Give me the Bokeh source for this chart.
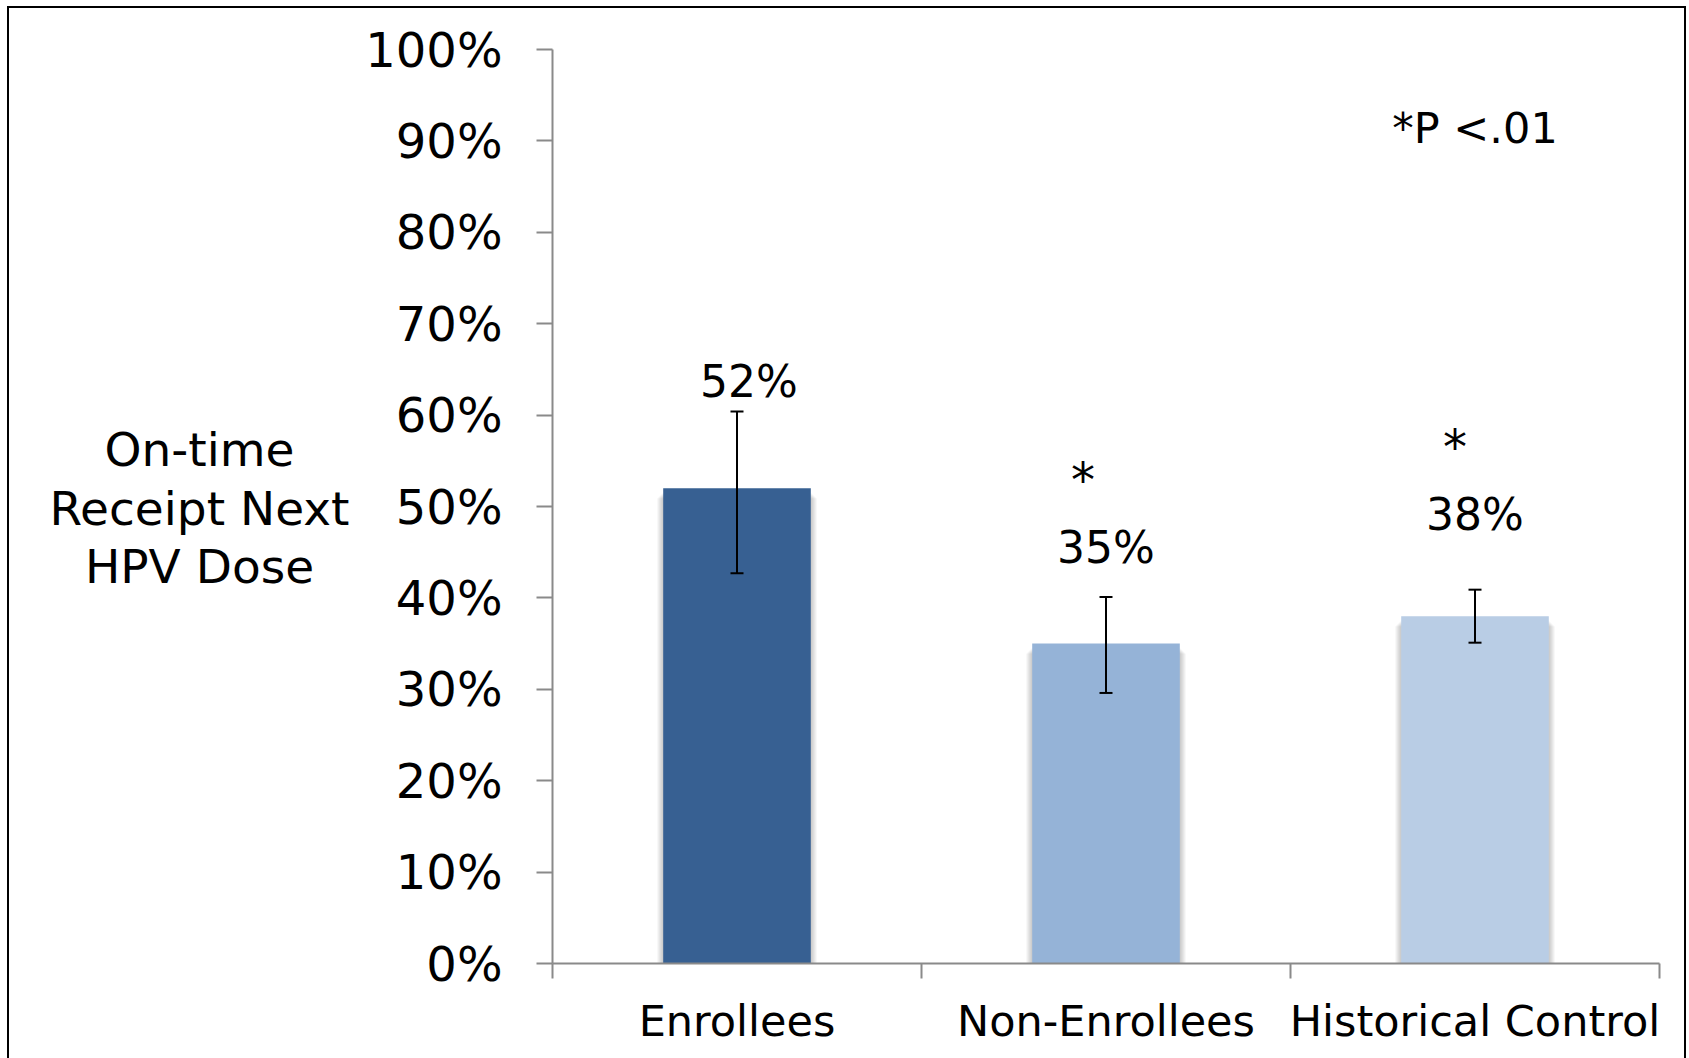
from bokeh.plotting import figure
from bokeh.layouts import row
from bokeh.models import (Range1d, FixedTicker, PrintfTickFormatter, ColumnDataSource,
                          Whisker, TeeHead, Label, InlineStyleSheet)
from bokeh.core.properties import value
from bokeh.embed import file_html
from bokeh.resources import INLINE

# ---- data -------------------------------------------------------------
categories = ["Enrollees", "Non-Enrollees", "Historical Control"]
rates = [52, 35, 38]                 # on-time receipt, %
ci_low = [42.7, 29.6, 35.1]
ci_high = [60.4, 40.1, 40.9]
significant = [False, True, True]    # *P < .01
y_ticks = [0, 10, 20, 30, 40, 50, 60, 70, 80, 90, 100]
y_title = ["On-time", "Receipt Next", "HPV Dose"]
p_note = "*P <.01"

# ---- styling / placement ---------------------------------------------
bar_colors = ["#376092", "#95B3D7", "#B9CDE5"]
axis_gray = "#8a8a8a"
FONT = "DejaVu Sans"
value_label_y = [63.7, 45.5, 49.1]
value_label_dx = [12, 0, 0]
star_y = [None, 52.9, 56.55]
star_dx = [0, -23, -20]
title_line_y = [56.2, 49.8, 43.4]    # on the shared percent scale

W, H = 1689, 1058
TITLE_W = 352

y_range = Range1d(0, 100)

# ---- y-axis title strip (horizontal, centred lines) -------------------
t = figure(width=TITLE_W, height=H, x_range=Range1d(0, TITLE_W), y_range=y_range,
           x_axis_type=None, y_axis_type=None,
           output_backend="svg", toolbar_location=None,
           min_border_left=0, min_border_right=0, min_border_top=49, min_border_bottom=95)
t.grid.grid_line_color = None
t.outline_line_color = None
t.background_fill_color = "white"
t.border_fill_color = "white"
t.text(x=[199 for _ in y_title], y=title_line_y, text=y_title,
       text_font=value(FONT), text_font_size="47px", text_align="center",
       text_baseline="alphabetic", text_color="black")

# ---- main bar chart ---------------------------------------------------
p = figure(width=W - TITLE_W, height=H, x_range=Range1d(0, 3), y_range=y_range,
           output_backend="svg", toolbar_location=None,
           min_border_left=552 - TITLE_W, min_border_right=30, min_border_top=49, min_border_bottom=95)
p.outline_line_color = None
p.xgrid.grid_line_color = None
p.ygrid.grid_line_color = None
p.background_fill_color = "white"
p.border_fill_color = "white"

centers = [i + 0.5 for i in range(len(categories))]
src = ColumnDataSource(dict(x=centers, top=rates, lo=ci_low, hi=ci_high, color=bar_colors,
                            label=[f"{r}%" for r in rates], ly=value_label_y, ldx=value_label_dx))

# soft drop shadow around each bar
px_x = 3 / (W - 552 - 30)
px_y = 100 / (H - 49 - 95)
for k in range(1, 7):
    p.quad(left=[c - 0.2 - k * px_x for c in centers],
           right=[c + 0.2 + k * px_x for c in centers],
           top=[r - (4 + k) * px_y for r in rates],
           bottom=[0] * len(rates),
           fill_color="black", fill_alpha=0.035, line_color=None)

p.vbar(x="x", top="top", width=0.4, bottom=0, source=src, fill_color="color", line_color=None)

err = Whisker(base="x", lower="lo", upper="hi", source=src, line_color="black", line_width=2,
              level="overlay",
              upper_head=TeeHead(size=13, line_width=2, line_color="black"),
              lower_head=TeeHead(size=13, line_width=2, line_color="black"))
p.add_layout(err)

p.text(x="x", y="ly", text="label", source=src, x_offset="ldx",
       text_font=value(FONT), text_font_size="44px", text_align="center",
       text_baseline="alphabetic", text_color="black")

sx = [c for c, s in zip(centers, significant) if s]
sy = [y for y, s in zip(star_y, significant) if s]
sdx = [d for d, s in zip(star_dx, significant) if s]
p.text(x=sx, y=sy, text=["*"] * len(sx), x_offset=sdx,
       text_font=value(FONT), text_font_size="48px", text_align="center",
       text_baseline="alphabetic", text_color="black")

p.add_layout(Label(x=centers[-1], y=91.4, text=p_note, text_font=FONT, text_font_size="43px",
                   text_align="center", text_baseline="alphabetic", text_color="black"))

# y axis
ya = p.yaxis[0]
ya.ticker = FixedTicker(ticks=y_ticks)
ya.formatter = PrintfTickFormatter(format="%d%%")
ya.axis_line_color = axis_gray
ya.axis_line_width = 2
ya.major_tick_line_color = axis_gray
ya.major_tick_line_width = 2
ya.major_tick_out = 16
ya.major_tick_in = 0
ya.minor_tick_line_color = None
ya.major_label_standoff = 34
ya.major_label_text_font = FONT
ya.major_label_text_font_size = "48px"
ya.major_label_text_color = "black"

# x axis: labels at category centres, ticks at category boundaries
xa = p.xaxis[0]
xa.ticker = FixedTicker(ticks=centers, minor_ticks=list(range(len(categories) + 1)))
xa.major_label_overrides = {c: name for c, name in zip(centers, categories)}
xa.axis_line_color = axis_gray
xa.axis_line_width = 2
xa.major_tick_line_color = None
xa.major_tick_out = 0
xa.major_tick_in = 0
xa.minor_tick_line_color = axis_gray
xa.minor_tick_line_width = 2
xa.minor_tick_out = 15
xa.minor_tick_in = 0
xa.major_label_standoff = 17
xa.major_label_text_font = FONT
xa.major_label_text_font_size = "43px"
xa.major_label_text_color = "black"

layout = row(t, p, spacing=0)

# thin black frame around the whole chart area
layout.stylesheets = [InlineStyleSheet(css=""":host { position: relative; }
:host::after {
  content: ""; position: absolute; left: 7px; top: 6px; width: 1679px; height: 1120px;
  border-left: 2px solid #000; border-top: 2px solid #000; border-right: 2px solid #000;
  box-sizing: border-box; pointer-events: none; z-index: 10; }""")]

open("out.html", "w").write(file_html(layout, INLINE))
